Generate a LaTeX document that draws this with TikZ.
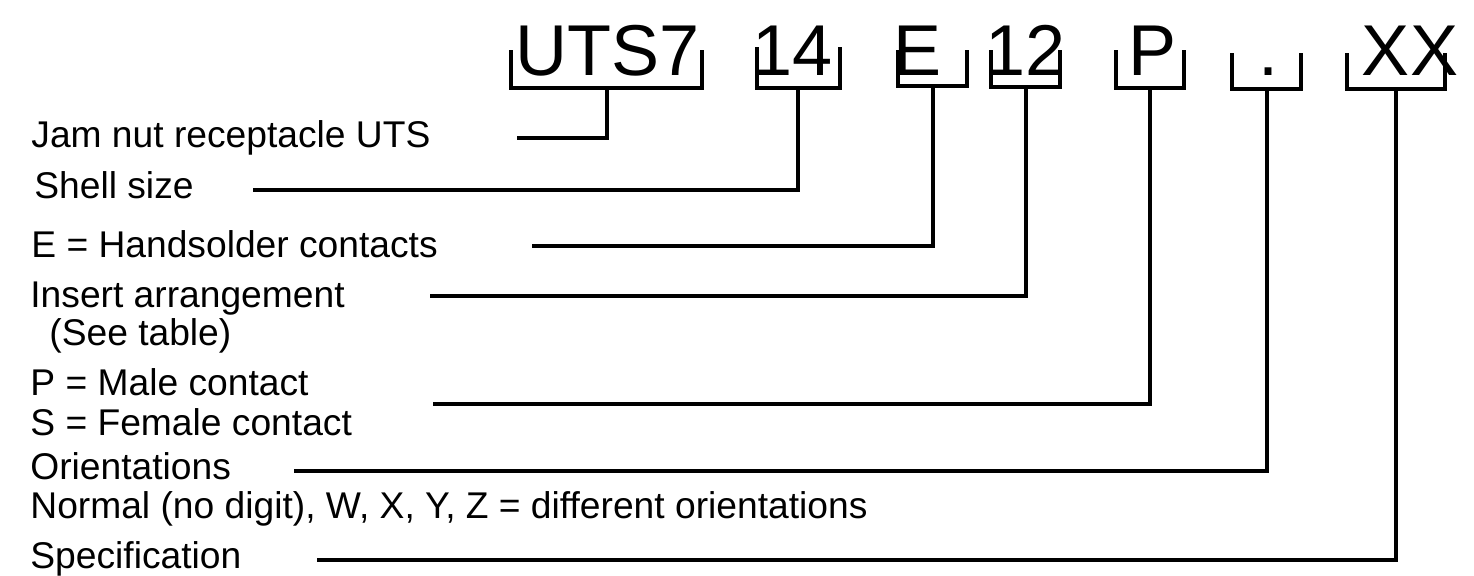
\documentclass[tikz,border=0pt]{standalone}
\usepackage{fontspec}
\setmainfont{Liberation Sans}
\begin{document}
\begin{tikzpicture}[x=0.5pt,y=-0.5pt,
  code/.style={inner sep=0pt,anchor=base,font=\fontsize{36}{40}\selectfont},
  lbl/.style={inner sep=0pt,anchor=base west,font=\fontsize{18.6}{22}\selectfont},
  brk/.style={line width=1.7pt,line join=miter},
  lead/.style={line width=1.7pt,line join=miter}]
\useasboundingbox (0,0) rectangle (1474,575);
% code characters
\node[code] (c1) at (608,75) {UTS7};
\node[code] (c2) at (793,75) {14};
\node[code] (c3) at (918,75) {E};
\node[code] (c4) at (1026,75) {12};
\node[code] (c5) at (1153,75) {P};
\node[code] (c6) at (1268,75) {.};
\node[code] (c7) at (1410,75) {XX};
% labels
\node[lbl] (l1) at (31,147) {Jam nut receptacle UTS};
\node[lbl] (l2) at (34,198) {Shell size};
\node[lbl] (l3) at (31,257) {E = Handsolder contacts};
\node[lbl] (l4) at (30,307) {Insert arrangement};
\node[lbl] (l4b) at (49,345) {(See table)};
\node[lbl] (l5) at (30,395) {P = Male contact};
\node[lbl] (l5b) at (30,435) {S = Female contact};
\node[lbl] (l6) at (30,479) {Orientations};
\node[lbl] (l6b) at (30,518) {Normal (no digit), W, X, Y, Z = different orientations};
\node[lbl] (l7) at (30,568) {Specification};
% bracket geometry: left, right, top, bottom, stem x, corner y, end x
\foreach \i/\L/\R/\T/\B/\S/\Y/\E in {
  1/511/702/50/88/607/138/517,
  2/757/840/47/88/798/190/253,
  3/898/967/50/86/933/246/532,
  4/991/1060/50/87/1026/296/430,
  5/1116/1184/50/88/1150/404/433,
  6/1232/1301/53/89/1267/471/294,
  7/1347/1445/53/89/1396/560/317}{
  \coordinate (tl\i) at (\L,\T);
  \coordinate (bl\i) at (\L,\B);
  \coordinate (br\i) at (\R,\B);
  \coordinate (tr\i) at (\R,\T);
  \coordinate (s\i) at (\S,\B);
  \coordinate (k\i) at (\S,\Y);
  \coordinate (e\i) at (\E,\Y);
  \draw[brk] (tl\i) -- (bl\i) -- (br\i) -- (tr\i);
  \draw[lead] (s\i) -- (k\i) -- (e\i);
}
\end{tikzpicture}
\end{document}
